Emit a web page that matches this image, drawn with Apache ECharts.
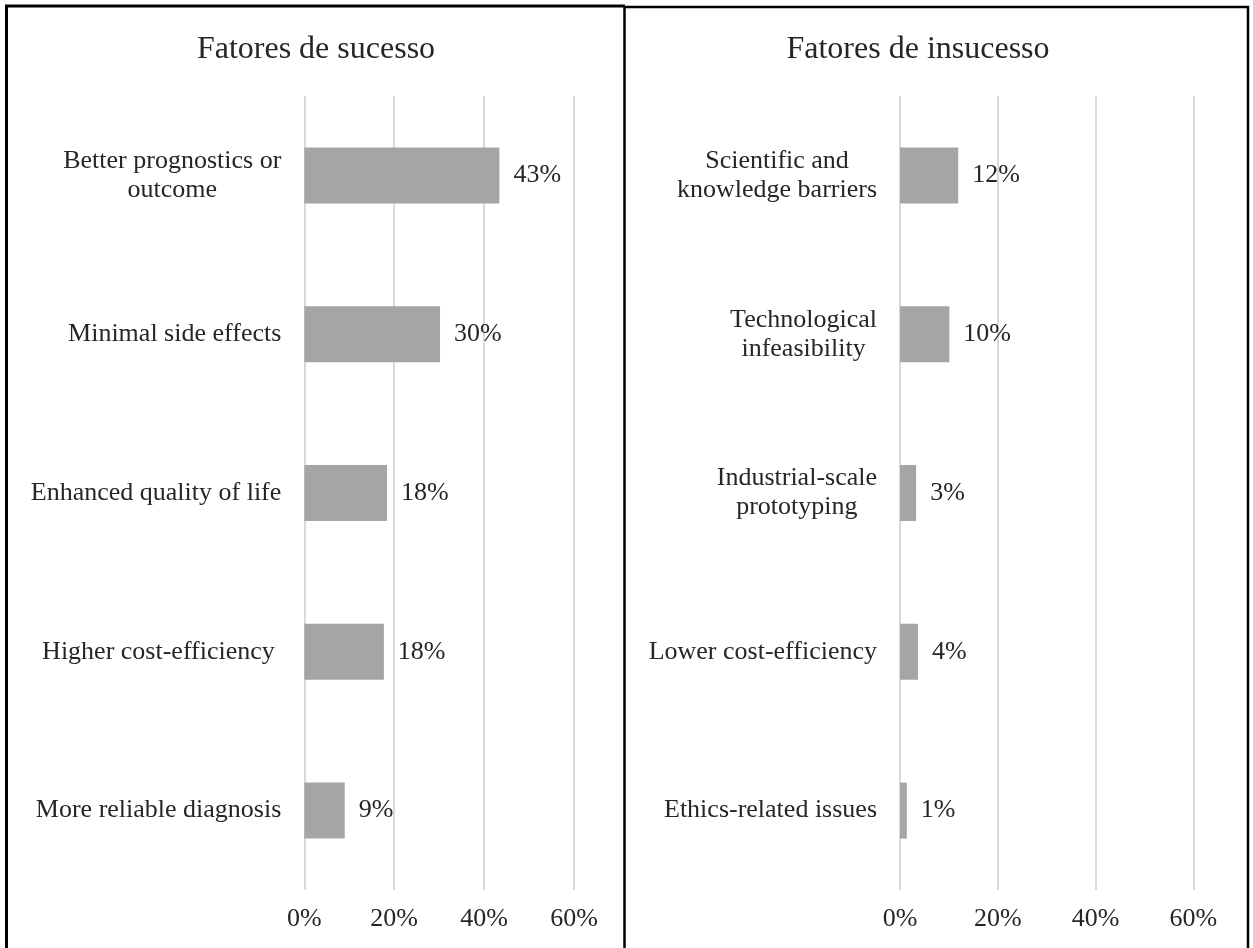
<!DOCTYPE html>
<html>
<head>
<meta charset="utf-8">
<script src="https://cdn.jsdelivr.net/npm/echarts@6/dist/echarts.min.js"></script>
<style>
html,body{margin:0;padding:0;background:#fff;}
#c{width:1253px;height:948px;}
</style>
</head>
<body>
<div id="c"></div>
<script>
const titleLeft = 'Fatores de sucesso';
const titleRight = 'Fatores de insucesso';
const catsLeft = ['Better prognostics or\noutcome', 'Minimal side effects', 'Enhanced quality of life', 'Higher cost-efficiency ', 'More reliable diagnosis'];
const valsLeft = [43.4, 30.2, 18.4, 17.7, 9.0];
const catsRight = ['Scientific and\nknowledge barriers', 'Technological\ninfeasibility', 'Industrial-scale\nprototyping', 'Lower cost-efficiency', 'Ethics-related issues'];
const valsRight = [11.9, 10.1, 3.3, 3.7, 1.4];
const axisMax = 60;
const axisStep = 20;

const FONT = '"Liberation Serif", "Times New Roman", serif';
const TXT = '#262626';

function catFormatter(v) {
  return v.split('\n').map(l => '{c|' + l + '}').join('\n');
}

function xAxis(idx) {
  return {
    type: 'value', gridIndex: idx, min: 0, max: axisMax, interval: axisStep,
    axisLine: {show: false}, axisTick: {show: false},
    splitLine: {show: true, lineStyle: {color: '#d9d9d9', width: 2}},
    axisLabel: {formatter: v => v + '%', fontFamily: FONT, fontSize: 26, color: TXT, margin: 16}
  };
}
function yAxis(idx, cats) {
  return {
    type: 'category', gridIndex: idx, data: cats, inverse: true,
    axisLine: {show: false}, axisTick: {show: false}, splitLine: {show: false},
    axisLabel: {
      formatter: catFormatter, margin: 23, fontFamily: FONT, fontSize: 26, color: TXT,
      lineHeight: 29,
      rich: {c: {align: 'center', fontFamily: FONT, fontSize: 26, color: TXT, lineHeight: 29}}
    }
  };
}
function barSeries(idx, vals) {
  return {
    type: 'bar', xAxisIndex: idx, yAxisIndex: idx, data: vals, barWidth: 56,
    itemStyle: {color: '#a5a5a5'},
    label: {show: true, position: 'right', distance: 14, formatter: p => Math.round(p.value) + '%',
      fontFamily: FONT, fontSize: 26, color: TXT},
    silent: true
  };
}

const chart = echarts.init(document.getElementById('c'), null, {renderer: 'canvas'});
chart.setOption({
  animation: false,
  backgroundColor: '#fff',
  title: [
    {text: titleLeft, left: 311, top: 29, textAlign: 'center',
     textStyle: {fontFamily: FONT, fontSize: 32, fontWeight: 'normal', color: TXT}},
    {text: titleRight, left: 913, top: 29, textAlign: 'center',
     textStyle: {fontFamily: FONT, fontSize: 32, fontWeight: 'normal', color: TXT}}
  ],
  grid: [
    {left: 304.3, width: 269.7, top: 96, height: 794},
    {left: 900, width: 293.3, top: 96, height: 794}
  ],
  xAxis: [xAxis(0), xAxis(1)],
  yAxis: [yAxis(0, catsLeft), yAxis(1, catsRight)],
  series: [barSeries(0, valsLeft), barSeries(1, valsRight)],
  graphic: [
    {type: 'polyline', shape: {points: [[6.5, 960], [6.5, 6], [625, 6]]}, style: {stroke: '#000', lineWidth: 3, fill: null}},
    {type: 'polyline', shape: {points: [[624.5, 960], [624.5, 7], [1248, 7], [1248, 960]]}, style: {stroke: '#000', lineWidth: 2.5, fill: null}}
  ]
});
</script>
</body>
</html>
